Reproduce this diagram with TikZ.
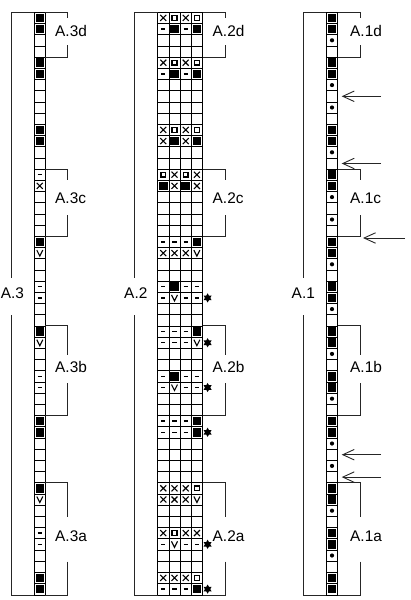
\documentclass[tikz,border=0pt]{standalone}
\usepackage{fontspec}
\setmainfont{Liberation Sans}
\usetikzlibrary{arrows.meta}
\newcommand\cellsym[3]{% #1 left x of cell, #2 row, #3 type
  \pgfmathsetmacro\cx{#1+5.6}\pgfmathsetmacro\cy{12.3+(#2-0.5)*11.2}%
  \csname sym#3\endcsname}
\newcommand\symW{}
\newcommand\symB{\fill[black] (\cx-4.3,\cy-4.3) rectangle (\cx+4.3,\cy+4.3);}
\newcommand\symD{\fill[black] (\cx,\cy) circle (2.1);}
\newcommand\symM{\draw[line width=1.5] (\cx-2.1,\cy) -- (\cx+2.1,\cy);}
\newcommand\symX{\draw[line width=1.1] (\cx-3,\cy-3) -- (\cx+3,\cy+3) (\cx-3,\cy+3) -- (\cx+3,\cy-3);}
\newcommand\symO{\draw[line width=1.3] (\cx-2.4,\cy-2.4) rectangle (\cx+2.4,\cy+2.4);}
\newcommand\symV{\draw[line width=1.1] (\cx-3,\cy-3) -- (\cx,\cy+3) -- (\cx+3,\cy-3);}
\newcommand\starsym[1]{\pgfmathsetmacro\cy{12.3+(#1-0.5)*11.2}%
  \fill[black] (207.6,\cy+4.6) -- (203.6,\cy-2.3) -- (211.6,\cy-2.3) -- cycle
     (207.6,\cy-4.6) -- (211.6,\cy+2.3) -- (203.6,\cy+2.3) -- cycle;}
\begin{document}
\begin{tikzpicture}[x=1pt,y=-1pt,
  gridline/.style={line width=0.8,black},
  brk/.style={line width=0.9,black!85},
  lbl/.style={inner sep=0,font=\fontsize{15.4}{18}\selectfont},
  arr/.style={line width=0.9,black!85,-{Straight Barb[length=11.5pt,width=10.5pt,line width=0.9]}}]
\useasboundingbox (0,0) rectangle (410,600);

% ---------- grids ----------
\foreach \xl/\nc in {34.2/1,157.7/4,326.4/1}{
  \draw[gridline] (\xl,12.3) rectangle ({\xl+\nc*11.2},595.3);
  \foreach \i in {1,...,51}
    \draw[gridline] (\xl,{12.3+\i*11.2}) -- ({\xl+\nc*11.2},{12.3+\i*11.2});
}
\foreach \j in {1,2,3}
  \draw[gridline] ({157.7+\j*11.2},12.3) -- ({157.7+\j*11.2},595.3);

% ---------- A.3 symbols ----------
\foreach \t [count=\r] in {B,B,W,W,B,B,W,W,W,W,B,B,W,W,M,X,W,W,W,W,B,V,W,W,M,M,W,W,B,V,W,W,M,M,W,W,B,B,W,W,W,W,B,V,W,W,M,M,W,W,B,B}
  {\cellsym{34.2}{\r}{\t}}

% ---------- A.1 symbols ----------
\foreach \t [count=\r] in {B,B,D,W,B,B,D,W,D,W,B,B,D,W,B,B,D,W,D,W,B,B,D,W,B,B,D,W,B,B,D,W,B,B,D,W,B,B,D,W,D,W,B,B,D,W,B,B,D,W,B,B}
  {\cellsym{326.4}{\r}{\t}}

% ---------- A.2 symbols ----------
\foreach \a/\b/\c/\d [count=\r] in {
 X/O/X/O, M/B/M/B, W/W/W/W, W/W/W/W, X/O/X/O, M/B/M/B, W/W/W/W, W/W/W/W, W/W/W/W, W/W/W/W,
 X/O/X/O, X/B/X/B, W/W/W/W, W/W/W/W, O/X/O/X, B/X/B/X, W/W/W/W, W/W/W/W, W/W/W/W, W/W/W/W,
 M/M/M/B, X/X/X/V, W/W/W/W, W/W/W/W, M/B/M/M, M/V/M/M, W/W/W/W, W/W/W/W, M/M/M/B, M/M/M/V,
 W/W/W/W, W/W/W/W, M/B/M/M, M/V/M/M, W/W/W/W, W/W/W/W, M/M/M/B, M/M/M/B, W/W/W/W, W/W/W/W,
 W/W/W/W, W/W/W/W, X/X/X/O, X/X/X/V, W/W/W/W, W/W/W/W, X/O/X/X, M/V/M/M, W/W/W/W, W/W/W/W,
 X/X/X/O, M/M/M/B}
 {\cellsym{157.7}{\r}{\a}\cellsym{168.9}{\r}{\b}\cellsym{180.1}{\r}{\c}\cellsym{191.3}{\r}{\d}}
\foreach \r in {26,30,34,38,48,52} {\starsym{\r}}

% ---------- big brackets ----------
\foreach \bx/\cl/\nm/\lx in {11/34.2/A.3/12.5,134/157.7/A.2/135.8,303.3/326.4/A.1/303.3}{
  \draw[brk] (\cl,12.3) -- (\bx,12.3) -- (\bx,278);
  \draw[brk] (\bx,315) -- (\bx,595.3) -- (\cl,595.3);
  \node[lbl] (big\nm) at (\lx,293) {\nm};
}

% ---------- sub brackets ----------
\foreach \cr/\vx/\lx/\p in {45.4/67.7/55/A.3,202.5/225/212.5/A.2,337.6/360/350/A.1}{
  % d : rows 1-4
  \draw[brk] (\cr,12.3) -- (\vx,12.3) -- (\vx,18.3);
  \draw[brk] (\vx,45) -- (\vx,57.1) -- (\cr,57.1);
  \node[lbl,anchor=west] (\p d) at (\lx,30.7) {\p d};
  % c : rows 15-20
  \draw[brk] (\cr,169.1) -- (\vx,169.1) -- (\vx,180);
  \draw[brk] (\vx,215) -- (\vx,236.3) -- (\cr,236.3);
  \node[lbl,anchor=west] (\p c) at (\lx,198.3) {\p c};
  % b : rows 29-36
  \draw[brk] (\cr,325.9) -- (\vx,325.9) -- (\vx,355);
  \draw[brk] (\vx,383) -- (\vx,415.5) -- (\cr,415.5);
  \node[lbl,anchor=west] (\p b) at (\lx,366.7) {\p b};
  % a : rows 43-52
  \draw[brk] (\cr,482.7) -- (\vx,482.7) -- (\vx,516.7);
  \draw[brk] (\vx,561.7) -- (\vx,595.3) -- (\cr,595.3);
  \node[lbl,anchor=west] (\p a) at (\lx,536) {\p a};
}

% ---------- arrows at A.1 ----------
\coordinate (t1) at (381,96.3);   \coordinate (h1) at (341.7,96.3);
\coordinate (t2) at (381,163.5);  \coordinate (h2) at (341.7,163.5);
\coordinate (t3) at (405,238);    \coordinate (h3) at (363,238);
\coordinate (t4) at (381,454.7);  \coordinate (h4) at (341.7,454.7);
\coordinate (t5) at (381,477.1);  \coordinate (h5) at (341.7,477.1);
\foreach \k in {1,...,5} \draw[arr] (t\k) -- (h\k);
\end{tikzpicture}
\end{document}
